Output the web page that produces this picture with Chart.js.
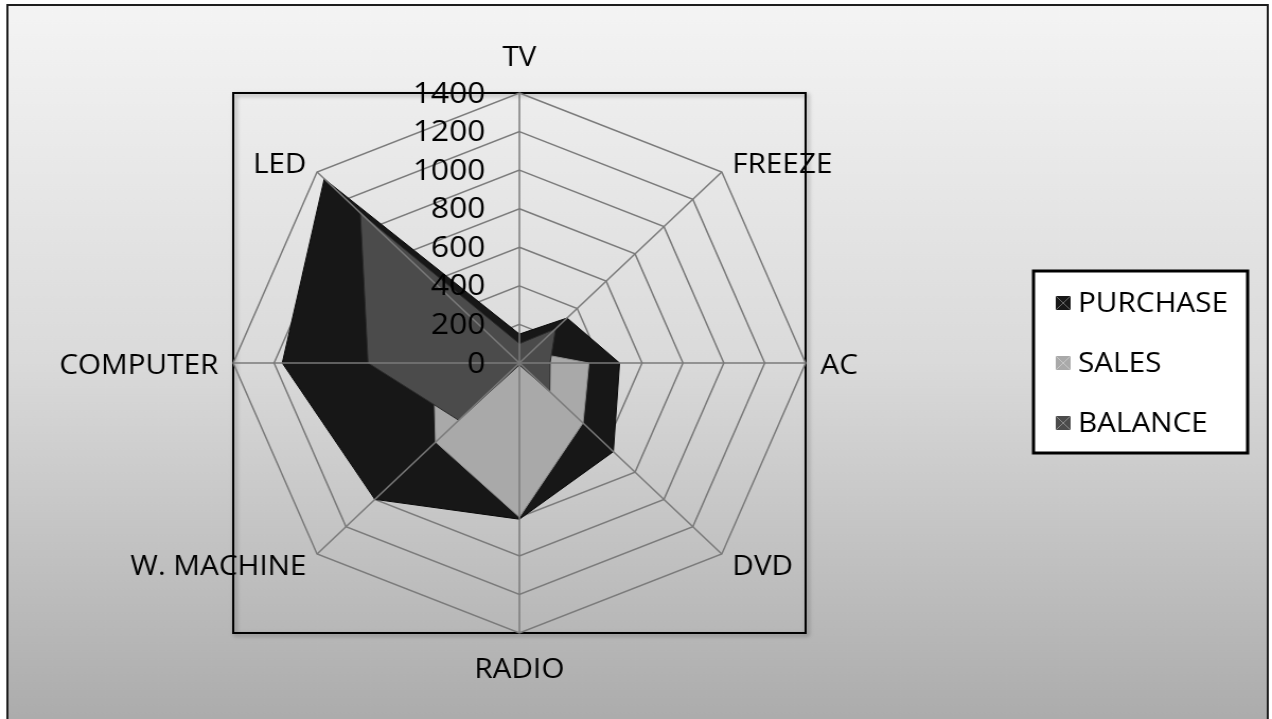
<!DOCTYPE html>
<html>
<head>
<meta charset="utf-8">
<script src="https://cdn.jsdelivr.net/npm/chart.js@4.4.1/dist/chart.umd.min.js"></script>
<style>
  html, body { margin: 0; padding: 0; background: #fff; overflow: hidden; }
  /* the original picture is a little wider than tall, so stretch it the same way */
  #wrap { position: absolute; left: 0; top: 0; width: 1200px; height: 719px; transform: scaleX(1.06); transform-origin: 0 0; }
</style>
</head>
<body>
<div id="wrap"><canvas id="mycanvas" width="1200" height="719"></canvas></div>
<script>
const categories = ['TV', 'FREEZE', 'AC', 'DVD', 'RADIO', 'W. MACHINE', 'COMPUTER', 'LED'];
const purchase = [150, 330, 490, 650, 810, 1000, 1160, 1350];
const sales = [50, 80, 340, 440, 800, 580, 420, 250];
const balance = [100, 250, 150, 210, 10, 420, 740, 1100];
const seriesNames = ['PURCHASE', 'SALES', 'BALANCE'];
const tickMin = 0, tickMax = 1400, tickStep = 200;

const FONT = '"Open Sans", "Liberation Sans", sans-serif';

var deco = {
  id: 'deco',
  beforeDraw(chart) {
    var c = chart.ctx, a = chart.chartArea;
    c.save();
    c.fillStyle = '#fff';
    c.fillRect(0, 0, chart.width, chart.height);
    var g = c.createLinearGradient(0, 5, 0, chart.height);
    g.addColorStop(0, '#f4f4f4');
    g.addColorStop(0.5, '#dadada');
    g.addColorStop(1, '#acacac');
    c.fillStyle = g;
    c.fillRect(7, 5, 1189, chart.height);
    c.strokeStyle = '#1e1e1e';
    c.lineWidth = 2;
    c.beginPath();
    c.moveTo(7, chart.height + 4);
    c.lineTo(7, 5);
    c.lineTo(1196, 5);
    c.lineTo(1196, chart.height + 4);
    c.stroke();
    // plot area square
    c.shadowColor = 'rgba(0,0,0,0.35)';
    c.shadowBlur = 4;
    c.shadowOffsetX = 2;
    c.shadowOffsetY = 2;
    c.strokeStyle = '#000';
    c.strokeRect(a.left, a.top, a.width, a.height);
    c.restore();
  },
  afterDatasetsDraw(chart) {
    var s = chart.scales.r, c = chart.ctx;
    c.save();
    // spokes sit on top of the fills
    c.strokeStyle = '#7a7a7a';
    c.lineWidth = 1.5;
    categories.forEach(function(_, i) {
      var p = s.getPointPosition(i, s.drawingArea);
      c.beginPath();
      c.moveTo(s.xCenter, s.yCenter);
      c.lineTo(p.x, p.y);
      c.stroke();
    });
    // tick labels, left of the TV spoke
    c.fillStyle = '#000';
    c.font = '30px ' + FONT;
    c.textAlign = 'right';
    c.textBaseline = 'middle';
    s.ticks.forEach(function(t) {
      c.fillText(String(t.value), s.xCenter - 32, s.yCenter - s.getDistanceFromCenterForValue(t.value) + 1);
    });
    // category labels
    c.font = '28px ' + FONT;
    categories.forEach(function(lab, i) {
      var p = s.getPointPosition(i, s.drawingArea + 14);
      var dx = p.x - s.xCenter, dy = p.y - s.yCenter;
      var onAxis = Math.abs(dx) < 1;
      c.textAlign = onAxis ? 'center' : (dx > 0 ? 'left' : 'right');
      c.textBaseline = 'middle';
      var y = p.y + 3;
      if (onAxis) y += dy < 0 ? -24 : 20;
      c.fillText(lab, p.x, y);
    });
    c.restore();
  },
  afterDraw(chart) {
    var c = chart.ctx;
    c.save();
    var bx = 975, by = 271, bw = 202, bh = 182;
    c.fillStyle = '#fff';
    c.fillRect(bx, by, bw, bh);
    c.strokeStyle = '#000';
    c.lineWidth = 3;
    c.strokeRect(bx, by, bw, bh);
    c.font = '28px ' + FONT;
    c.textAlign = 'left';
    c.textBaseline = 'middle';
    chart.data.datasets.forEach(function(ds, i) {
      var y = by + 32 + i * 60;
      c.fillStyle = ds.backgroundColor;
      c.fillRect(bx + 21, y - 7, 14, 14);
      c.strokeStyle = 'rgba(255,255,255,0.35)';
      c.lineWidth = 1;
      c.beginPath();
      c.moveTo(bx + 21, y - 7); c.lineTo(bx + 35, y + 7);
      c.moveTo(bx + 35, y - 7); c.lineTo(bx + 21, y + 7);
      c.stroke();
      c.fillStyle = '#000';
      c.fillText(ds.label, bx + 42, y + 1);
    });
    c.restore();
  }
};

var ctx = document.getElementById('mycanvas');

var chartdata = {
  labels: categories,
  datasets: [
    {
      label: seriesNames[0],
      data: purchase,
      backgroundColor: '#171717',
      borderColor: '#0a0a0a',
      fill: true,
      order: 3
    },
    {
      label: seriesNames[1],
      data: sales,
      backgroundColor: '#a9a9a9',
      borderColor: '#8c8c8c',
      fill: true,
      order: 2
    },
    {
      label: seriesNames[2],
      data: balance,
      backgroundColor: '#4b4b4b',
      borderColor: '#2c2c2c',
      fill: true,
      order: 1
    }
  ]
};

var radar = new Chart(ctx, {
  type: 'radar',
  data: chartdata,
  plugins: [deco],
  options: {
    responsive: false,
    animation: false,
    layout: { padding: { left: 220, top: 93, right: 440, bottom: 86 } },
    plugins: { legend: { display: false }, tooltip: { enabled: false } },
    elements: {
      point: { radius: 0, hoverRadius: 0 },
      line: { borderWidth: 1, tension: 0 }
    },
    scales: {
      r: {
        min: tickMin,
        max: tickMax,
        ticks: { stepSize: tickStep, display: false },
        pointLabels: { display: false },
        angleLines: { display: false },
        grid: { color: '#7a7a7a', lineWidth: 1.5 }
      }
    }
  }
});
</script>
</body>
</html>
